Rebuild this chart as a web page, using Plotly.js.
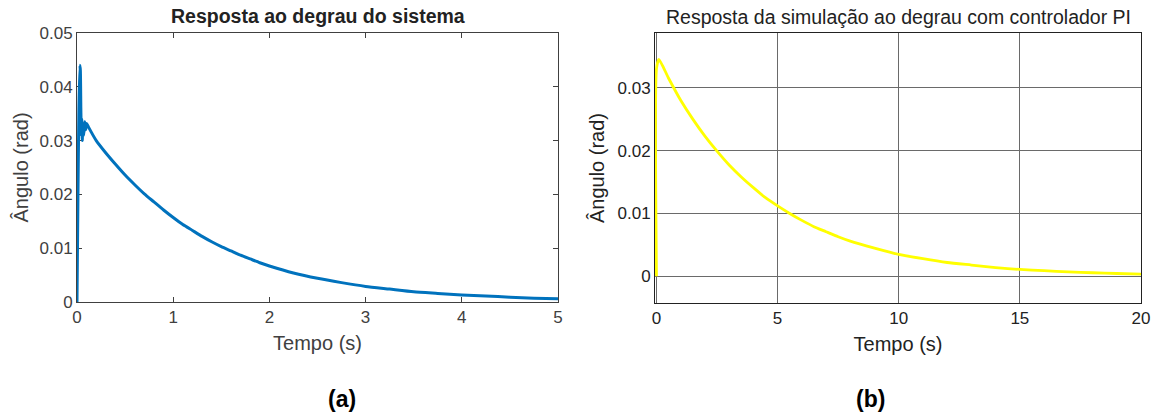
<!DOCTYPE html>
<html>
<head>
<meta charset="utf-8">
<script src="https://cdn.plot.ly/plotly-3.0.1.min.js"></script>
<style>html,body{margin:0;padding:0;background:#fff;}#chart{width:1159px;height:416px;}</style>
</head>
<body>
<div id="chart"></div>
<script>
// (a) Resposta ao degrau do sistema
const tempoA = [0, 0.01, 0.02, 0.03, 0.035, 0.04, 0.045, 0.05, 0.055, 0.06, 0.07, 0.08, 0.09, 0.1, 0.12,
  0.2, 0.3, 0.4, 0.5, 0.6, 0.7, 0.8, 0.9, 1.0, 1.1, 1.2, 1.3, 1.4, 1.5, 1.6, 1.7, 1.8, 1.9, 2.0,
  2.25, 2.5, 2.75, 3.0, 3.25, 3.5, 3.75, 4.0, 4.25, 4.5, 4.75, 5.0];
const anguloA = [0, 0.020, 0.036, 0.044, 0.043, 0.036, 0.031, 0.034, 0.030, 0.033, 0.031, 0.0335, 0.032, 0.0332, 0.0325,
  0.0300, 0.0277, 0.0256, 0.0236, 0.0218, 0.0201, 0.0186, 0.0171, 0.0157, 0.0144, 0.0133, 0.0122, 0.0112, 0.0103, 0.0095, 0.0087, 0.0080, 0.0073, 0.0067,
  0.0054, 0.0044, 0.0036, 0.0029, 0.0024, 0.0019, 0.0016, 0.0013, 0.0011, 0.0009, 0.0007, 0.0006];

// (b) Resposta da simulação ao degrau com controlador PI
const tempoB = [0, 0, 0.1, 0.5, 1, 1.5, 2, 2.5, 3, 3.5, 4, 4.5, 5, 5.5, 6, 6.5, 7, 7.5, 8, 9, 10, 11, 12, 13, 14, 15, 16, 17, 18, 19, 20];
const anguloB = [0, 0.033, 0.0345, 0.0315, 0.0280, 0.0250, 0.0223, 0.0199, 0.0177, 0.0158, 0.0141, 0.0125, 0.0112, 0.0100, 0.0089,
  0.0079, 0.0071, 0.0063, 0.0056, 0.0045, 0.0035, 0.0028, 0.0022, 0.0018, 0.0014, 0.0011, 0.0009, 0.0007, 0.00057, 0.00045, 0.00036];

const tickA_y = [0, 0.01, 0.02, 0.03, 0.04, 0.05];
const tickA_x = [0, 1, 2, 3, 4, 5];
const tickB_y = [0, 0.01, 0.02, 0.03];
const tickB_x = [0, 5, 10, 15, 20];

const titleA = 'Resposta ao degrau do sistema';
const titleB = 'Resposta da simulação ao degrau com controlador PI';
const xLabel = 'Tempo (s)';
const yLabel = 'Ângulo (rad)';

const W = 1159, H = 416;
const px = v => v / W;
const py = v => 1 - v / H;

const FONT = 'Liberation Sans, Arial, sans-serif';
const greyA = '#404040';

const traces = [
  {x: tempoA, y: anguloA, type: 'scatter', mode: 'lines', xaxis: 'x', yaxis: 'y',
   line: {color: '#0072BD', width: 3, shape: 'spline', smoothing: 0.6}, hoverinfo: 'x+y'},
  {x: tempoB, y: anguloB, type: 'scatter', mode: 'lines', xaxis: 'x2', yaxis: 'y2',
   line: {color: '#FFFF00', width: 2.8, shape: 'spline', smoothing: 0.6}, hoverinfo: 'x+y'}
];

const layout = {
  width: W, height: H,
  margin: {l: 0, r: 0, t: 0, b: 0},
  paper_bgcolor: '#fff', plot_bgcolor: '#fff',
  showlegend: false,
  font: {family: FONT, size: 17, color: greyA},
  xaxis: {
    domain: [px(77), px(558)], anchor: 'y', range: [0, 5], tickvals: tickA_x, layer: 'below traces',
    showgrid: false, zeroline: false, showline: true, mirror: 'ticks', linecolor: greyA, linewidth: 1,
    ticks: 'inside', ticklen: 5, tickcolor: greyA, tickfont: {size: 17, color: greyA},
    title: {text: xLabel, font: {size: 20, color: greyA}, standoff: 9}, automargin: false
  },
  yaxis: {
    domain: [py(302), py(33)], anchor: 'x', range: [0, 0.05], tickvals: tickA_y, layer: 'below traces',
    showgrid: false, zeroline: false, showline: true, mirror: 'ticks', linecolor: greyA, linewidth: 1,
    ticks: 'inside', ticklen: 5, tickcolor: greyA, tickfont: {size: 17, color: greyA},
    title: {text: yLabel, font: {size: 20, color: greyA}, standoff: 5}, automargin: false
  },
  xaxis2: {
    domain: [px(655), px(1141)], anchor: 'y2', range: [-0.06, 20], tickvals: tickB_x, layer: 'below traces',
    showgrid: true, gridcolor: '#6a6a6a', gridwidth: 1, zeroline: false,
    showline: true, mirror: true, linecolor: '#222', linewidth: 1,
    ticks: '', tickfont: {size: 17, color: '#222'},
    title: {text: xLabel, font: {size: 20, color: '#222'}, standoff: 9}, automargin: false
  },
  yaxis2: {
    domain: [py(303), py(33)], anchor: 'x2', range: [-0.00424, 0.0387], tickvals: tickB_y, layer: 'below traces',
    showgrid: true, gridcolor: '#6a6a6a', gridwidth: 1, zeroline: false,
    showline: true, mirror: true, linecolor: '#222', linewidth: 1,
    ticks: '', tickfont: {size: 17, color: '#222'},
    title: {text: yLabel, font: {size: 20, color: '#222'}, standoff: 7}, automargin: false
  },
  annotations: [
    {text: '<b>' + titleA + '</b>', xref: 'paper', yref: 'paper', x: px(318), y: py(16),
     xanchor: 'center', yanchor: 'middle', showarrow: false, font: {size: 19.5, color: '#222', family: FONT}},
    {text: titleB, xref: 'paper', yref: 'paper', x: px(898), y: py(17),
     xanchor: 'center', yanchor: 'middle', showarrow: false, font: {size: 19.5, color: '#222', family: FONT}},
    {text: '<b>(a)</b>', xref: 'paper', yref: 'paper', x: px(342), y: py(399),
     xanchor: 'center', yanchor: 'middle', showarrow: false, font: {size: 23, color: '#000', family: FONT}},
    {text: '<b>(b)</b>', xref: 'paper', yref: 'paper', x: px(870), y: py(399),
     xanchor: 'center', yanchor: 'middle', showarrow: false, font: {size: 23, color: '#000', family: FONT}}
  ]
};

Plotly.newPlot('chart', traces, layout, {displayModeBar: false, staticPlot: true});
</script>
</body>
</html>
